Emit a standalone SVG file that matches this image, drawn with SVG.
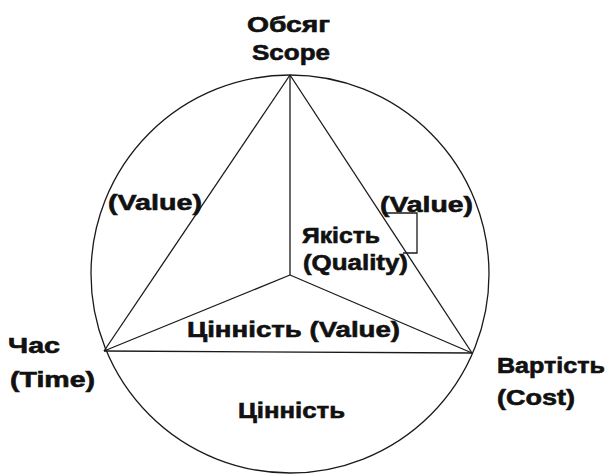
<svg xmlns="http://www.w3.org/2000/svg" width="611" height="475" viewBox="0 0 611 475">
<style>
.ln{fill:none;stroke:#1a1a1a;stroke-width:1.3}
.t{font-family:"Liberation Sans",Arial,sans-serif;font-weight:bold;font-size:22px;fill:#111;stroke:#111;stroke-width:0.6}
</style>
<rect width="611" height="475" fill="#fff"/>
<g id="connectors">
<circle class="ln" cx="290" cy="274" r="199"/>
<line class="ln" x1="290" y1="75" x2="104" y2="351"/>
<line class="ln" x1="290" y1="75" x2="472" y2="353"/>
<line class="ln" x1="104" y1="351" x2="472" y2="353"/>
<line class="ln" x1="290" y1="75" x2="290" y2="275"/>
<line class="ln" x1="290" y1="275" x2="104" y2="351"/>
<line class="ln" x1="290" y1="275" x2="472" y2="353"/>
<polyline class="ln" points="383,213 417,213 417,253 403,253"/>
</g>
<g id="scope"><text class="t" x="247" y="32" textLength="83" lengthAdjust="spacingAndGlyphs">Обсяг</text>
<text class="t" x="252" y="60" textLength="78" lengthAdjust="spacingAndGlyphs">Scope</text></g>
<g id="value-left"><text class="t" x="108" y="210" textLength="94" lengthAdjust="spacingAndGlyphs">(Value)</text></g>
<g id="value-right"><text class="t" x="380" y="212" textLength="93" lengthAdjust="spacingAndGlyphs">(Value)</text></g>
<g id="quality"><text class="t" x="302" y="243" textLength="78" lengthAdjust="spacingAndGlyphs">Якість</text>
<text class="t" x="303" y="270" textLength="105" lengthAdjust="spacingAndGlyphs">(Quality)</text></g>
<g id="time"><text class="t" x="8" y="353" textLength="52" lengthAdjust="spacingAndGlyphs">Час</text>
<text class="t" x="10" y="387" textLength="85" lengthAdjust="spacingAndGlyphs">(Time)</text></g>
<g id="cost"><text class="t" x="497" y="373" textLength="108" lengthAdjust="spacingAndGlyphs">Вартість</text>
<text class="t" x="497" y="405" textLength="78" lengthAdjust="spacingAndGlyphs">(Cost)</text></g>
<g id="value-inner"><text class="t" x="187" y="337" textLength="213" lengthAdjust="spacingAndGlyphs">Цінність (Value)</text></g>
<g id="value-bottom"><text class="t" x="238" y="418" textLength="107" lengthAdjust="spacingAndGlyphs">Цінність</text></g>
</svg>
